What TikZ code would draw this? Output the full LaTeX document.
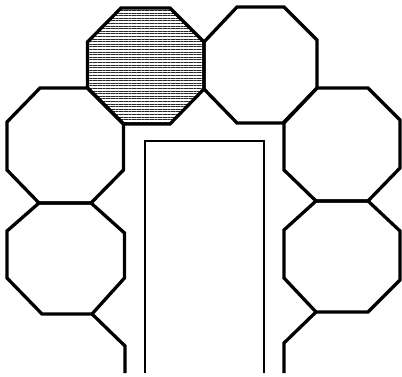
\documentclass[tikz,border=0pt]{standalone}
\usetikzlibrary{patterns.meta}
\begin{document}
\begin{tikzpicture}[x=1pt,y=-1pt,
  octline/.style={line width=3.3pt,line join=miter,line cap=butt},
  rectline/.style={line width=2.6pt,line join=miter},
  shadefill/.style={pattern={Lines[angle=0,distance=2.6pt,line width=0.8pt]},pattern color=black!85}]
\useasboundingbox (0,0) rectangle (402,377);
% shaded octagon (top middle)
\fill[shadefill] (121,8) -- (170,8) -- (204,42) -- (204,89) -- (170,124) -- (123.5,124) -- (87.5,88) -- (87.5,42) -- cycle;
\draw[octline] (121,8) -- (170,8) -- (204,42) -- (204,89) -- (170,124) -- (123.5,124) -- (87.5,88) -- (87.5,42) -- cycle;
% top right octagon
\draw[octline] (237,7) -- (284,7) -- (317,40) -- (317,88) -- (283,123) -- (237,123) -- (204,89) -- (204,42) -- cycle;
% left upper octagon
\draw[octline] (40,88) -- (87.5,88) -- (123.5,124) -- (123.5,170) -- (91,203) -- (39,203) -- (7,170) -- (7,122) -- cycle;
% left lower octagon
\draw[octline] (39,203) -- (91,203) -- (124.5,233) -- (124.5,278) -- (92,314) -- (42,314) -- (7,278) -- (7,231) -- cycle;
\draw[octline] (92,314) -- (125,346) -- (125,373);
% right upper octagon
\draw[octline] (317,88) -- (368,88) -- (400,120) -- (400,168) -- (368,201) -- (316,201) -- (284,170) -- (284,123) -- cycle;
% right lower octagon
\draw[octline] (316,201) -- (368,201) -- (400,231) -- (400,280) -- (368,312) -- (316,312) -- (284,278) -- (284,230) -- cycle;
\draw[octline] (316,312) -- (284,343) -- (284,373);
% central rectangle (open at the bottom)
\draw[rectline] (145,373) -- (145,141) -- (264,141) -- (264,373);
\end{tikzpicture}
\end{document}
